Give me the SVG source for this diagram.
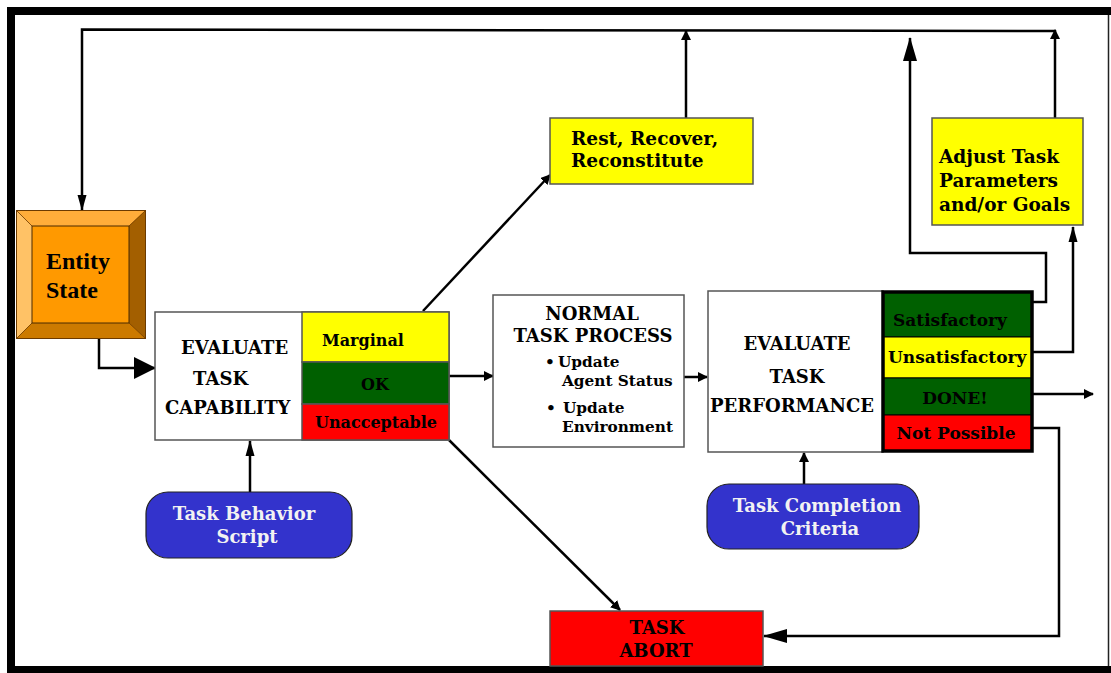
<svg xmlns="http://www.w3.org/2000/svg" width="1111" height="673" viewBox="0 0 1111 673">
  <defs>
    <style>
      .t { font-family: "DejaVu Serif", "Liberation Serif", serif; font-weight: bold; fill: #000; }
      .h { font-size: 18px; }
      .y { font-size: 18.5px; }
      .s { font-size: 16px; }
      .p { font-size: 17px; }
      .b { font-size: 15.3px; }
      .w { font-size: 18px; fill: #f2f2f2; }
      .box { stroke: #555; stroke-width: 1.5; }
      .wire { fill: none; stroke: #000; stroke-width: 2.5; }
    </style>
    <marker id="tri" markerWidth="10" markerHeight="10" refX="9" refY="5" orient="auto" markerUnits="userSpaceOnUse">
      <path d="M0,0 L10,5 L0,10 Z" fill="#000"/>
    </marker>
    <marker id="triLong" markerWidth="16" markerHeight="10" refX="15" refY="5" orient="auto" markerUnits="userSpaceOnUse">
      <path d="M0,0.5 L16,5 L0,9.5 Z" fill="#000"/>
    </marker>
    <marker id="spear" markerWidth="24" markerHeight="14" refX="23" refY="7" orient="auto" markerUnits="userSpaceOnUse">
      <path d="M0,0 L24,7 L0,14 Z" fill="#000"/>
    </marker>
    <marker id="big" markerWidth="22" markerHeight="22" refX="21" refY="11" orient="auto" markerUnits="userSpaceOnUse">
      <path d="M0,0 L22,11 L0,22 Z" fill="#000"/>
    </marker>
  </defs>

  <rect width="1111" height="673" fill="#fff"/>

  <!-- outer frame -->
  <g id="frame">
    <rect x="7" y="7" width="1104" height="8" fill="#000"/>
    <rect x="7" y="7" width="8" height="666" fill="#000"/>
    <rect x="7" y="666" width="1104" height="7" fill="#000"/>
    <line x1="1108.5" y1="15" x2="1108.5" y2="666" stroke="#222" stroke-width="1.5"/>
  </g>

  <!-- connectors -->
  <g id="connectors">
    <!-- top feedback bus into Entity State -->
    <polyline class="wire" points="1056,31 82,29.5 82,210" marker-end="url(#triLong)"/>
    <!-- Entity State to Evaluate Task Capability -->
    <polyline class="wire" points="99,339 99,368 155,368" marker-end="url(#big)"/>
    <!-- Marginal to Rest -->
    <line class="wire" x1="423" y1="311" x2="550" y2="175" marker-end="url(#tri)"/>
    <!-- Rest up to bus -->
    <line class="wire" x1="686" y1="118" x2="686" y2="31" marker-end="url(#tri)"/>
    <!-- OK to Normal Task Process -->
    <line class="wire" x1="449" y1="376" x2="493" y2="376" marker-end="url(#tri)"/>
    <!-- Normal to Evaluate Task Performance -->
    <line class="wire" x1="684" y1="377" x2="707" y2="377" marker-end="url(#tri)"/>
    <!-- Unacceptable to Task Abort -->
    <line class="wire" x1="449" y1="440" x2="620" y2="610" marker-end="url(#tri)"/>
    <!-- Task Behavior Script up -->
    <line class="wire" x1="250" y1="492" x2="250" y2="441" marker-end="url(#triLong)"/>
    <!-- Task Completion Criteria up -->
    <line class="wire" x1="804" y1="484" x2="804" y2="453" marker-end="url(#tri)"/>
    <!-- Satisfactory loop up -->
    <polyline class="wire" points="1032,302 1046,302 1046,253 910,253 910,38" marker-end="url(#spear)"/>
    <!-- Unsatisfactory to Adjust -->
    <polyline class="wire" points="1032,352 1073,352 1073,227" marker-end="url(#triLong)"/>
    <!-- Adjust up to bus -->
    <line class="wire" x1="1055" y1="118" x2="1055" y2="30" marker-end="url(#tri)"/>
    <!-- DONE out -->
    <line class="wire" x1="1032" y1="394" x2="1093" y2="394" marker-end="url(#tri)"/>
    <!-- Not Possible to Task Abort -->
    <polyline class="wire" points="1032,428 1059,428 1059,636 764,636" marker-end="url(#spear)"/>
  </g>

  <!-- Entity State -->
  <g id="entity-state">
    <rect x="16.5" y="210.5" width="129" height="128" fill="#ff9900" stroke="#6b3a00" stroke-width="1"/>
    <polygon points="16.5,210.5 145.5,210.5 129,226 32,226" fill="#ffad3a"/>
    <polygon points="16.5,210.5 32,226 32,323 16.5,338.5" fill="#ffc266"/>
    <polygon points="145.5,210.5 145.5,338.5 129,323 129,226" fill="#a35f00"/>
    <polygon points="16.5,338.5 145.5,338.5 129,323 32,323" fill="#cc7a00"/>
    <rect x="32" y="226" width="97" height="97" fill="#ff9900" stroke="#4a2a00" stroke-width="1"/>
    <rect x="16.5" y="210.5" width="129" height="128" fill="none" stroke="#6b3a00" stroke-width="1"/>
    <line x1="16.5" y1="210.5" x2="32" y2="226" stroke="#6b3a00" stroke-width="0.8"/>
    <line x1="145.5" y1="210.5" x2="129" y2="226" stroke="#6b3a00" stroke-width="0.8"/>
    <line x1="16.5" y1="338.5" x2="32" y2="323" stroke="#6b3a00" stroke-width="0.8"/>
    <line x1="145.5" y1="338.5" x2="129" y2="323" stroke="#6b3a00" stroke-width="0.8"/>
    <text x="46" y="269" style="font-family:'Liberation Serif',serif;font-weight:bold;font-size:24px">Entity</text>
    <text x="46" y="298" style="font-family:'Liberation Serif',serif;font-weight:bold;font-size:24px">State</text>
  </g>

  <!-- Evaluate Task Capability -->
  <g id="evaluate-capability">
    <rect class="box" x="155" y="312" width="294" height="128" fill="#fff"/>
    <rect class="box" x="302" y="312" width="147" height="50" fill="#ffff00"/>
    <rect class="box" x="302" y="362" width="147" height="42" fill="#006000"/>
    <rect class="box" x="302" y="404" width="147" height="36" fill="#ff0000"/>
    <text class="t h" x="181" y="354">EVALUATE</text>
    <text class="t h" x="193" y="385">TASK</text>
    <text class="t h" x="165" y="414">CAPABILITY</text>
    <text class="t s" x="322" y="346">Marginal</text>
    <text class="t s" x="375" y="390" text-anchor="middle">OK</text>
    <text class="t s" x="376" y="428" text-anchor="middle">Unacceptable</text>
  </g>

  <!-- Rest, Recover, Reconstitute -->
  <g id="rest">
    <rect class="box" x="550" y="118" width="203" height="66" fill="#ffff00"/>
    <text class="t y" x="571" y="145">Rest, Recover,</text>
    <text class="t y" x="571" y="167">Reconstitute</text>
  </g>

  <!-- Normal Task Process -->
  <g id="normal-process">
    <rect class="box" x="493" y="295" width="191" height="152" fill="#fff"/>
    <text class="t h" x="592" y="320" text-anchor="middle">NORMAL</text>
    <text class="t h" x="593" y="342" text-anchor="middle">TASK PROCESS</text>
    <text class="t b" x="545" y="367">•</text>
    <text class="t b" x="558" y="367">Update</text>
    <text class="t b" x="562" y="386">Agent Status</text>
    <text class="t b" x="546" y="413">•</text>
    <text class="t b" x="563" y="413">Update</text>
    <text class="t b" x="562" y="432">Environment</text>
  </g>

  <!-- Evaluate Task Performance -->
  <g id="evaluate-performance">
    <rect class="box" x="708" y="291" width="175" height="161" fill="#fff"/>
    <text class="t h" x="797" y="350" text-anchor="middle">EVALUATE</text>
    <text class="t h" x="797" y="383" text-anchor="middle">TASK</text>
    <text class="t h" x="792" y="412" text-anchor="middle">PERFORMANCE</text>
    <rect x="883" y="292" width="149" height="45" fill="#006000" stroke="#000" stroke-width="1"/>
    <rect x="883" y="337" width="149" height="41" fill="#ffff00" stroke="#000" stroke-width="1"/>
    <rect x="883" y="378" width="149" height="37" fill="#006000" stroke="#000" stroke-width="1"/>
    <rect x="883" y="415" width="149" height="36" fill="#ff0000" stroke="#000" stroke-width="1"/>
    <rect x="883" y="292" width="149" height="159" fill="none" stroke="#000" stroke-width="3.5"/>
    <text class="t p" x="893" y="326">Satisfactory</text>
    <text class="t p" x="888" y="363">Unsatisfactory</text>
    <text class="t p" x="955" y="404" text-anchor="middle">DONE!</text>
    <text class="t p" x="956" y="439" text-anchor="middle">Not Possible</text>
  </g>

  <!-- Adjust Task Parameters -->
  <g id="adjust">
    <rect class="box" x="932" y="118" width="151" height="107" fill="#ffff00"/>
    <text class="t y" x="939" y="163">Adjust Task</text>
    <text class="t y" x="939" y="187">Parameters</text>
    <text class="t y" x="939" y="211">and/or Goals</text>
  </g>

  <!-- Task Behavior Script -->
  <g id="behavior-script">
    <rect x="146" y="492" width="206" height="66" rx="22" fill="#3333cc" stroke="#222" stroke-width="1.2"/>
    <text class="t w" x="244" y="520" text-anchor="middle">Task Behavior</text>
    <text class="t w" x="247" y="543" text-anchor="middle">Script</text>
  </g>

  <!-- Task Completion Criteria -->
  <g id="completion-criteria">
    <rect x="707" y="484" width="212" height="65" rx="22" fill="#3333cc" stroke="#222" stroke-width="1.2"/>
    <text class="t w" x="817" y="512" text-anchor="middle">Task Completion</text>
    <text class="t w" x="820" y="535" text-anchor="middle">Criteria</text>
  </g>

  <!-- Task Abort -->
  <g id="task-abort">
    <rect class="box" x="550" y="611" width="213" height="55" fill="#ff0000"/>
    <text class="t h" x="657" y="634" text-anchor="middle">TASK</text>
    <text class="t h" x="656" y="657" text-anchor="middle">ABORT</text>
  </g>
</svg>
